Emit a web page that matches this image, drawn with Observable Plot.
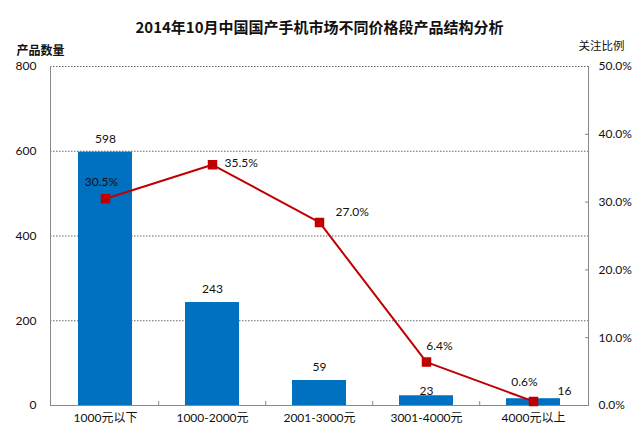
<!DOCTYPE html>
<html><head><meta charset="utf-8">
<script src="https://cdn.jsdelivr.net/npm/d3@7"></script>
<script src="https://cdn.jsdelivr.net/npm/@observablehq/plot@0.6"></script>
<style>body{margin:0;background:#fff}</style>
</head><body><div id="chart"></div>
<script>
const categories = ["1000元以下","1000-2000元","2001-3000元","3001-4000元","4000元以上"];
const counts = [598, 243, 59, 23, 16];
const shares = [30.5, 35.5, 27.0, 6.4, 0.6];
const leftTicks = [0, 200, 400, 600, 800];
const rightTicks = [0, 10, 20, 30, 40, 50];
const title = "2014年10月中国国产手机市场不同价格段产品结构分析";
const leftLabel = "产品数量";
const rightLabel = "关注比例";

const W = 640, H = 445, ML = 50, MR = 52, MT = 66, MB = 40;
const K = 800 / 50; // percent -> left scale units
const step = (W - ML - MR) / categories.length;
const px = 800 / (H - MT - MB); // data units per pixel
const data = categories.map((c, i) => ({cat: c, n: counts[i], p: shares[i]}));
const font = "Lato,'Noto Sans CJK SC',sans-serif";
const cjk = "'Noto Sans CJK SC',sans-serif";
const fmt = d => d.toFixed(1) + "%";
const lineLabel = (k, dx, dy, anchor) => Plot.text(data, {
  filter: (d, i) => i === k, x: "cat", y: d => d.p * K, text: d => fmt(d.p),
  dx, dy, textAnchor: anchor, fontSize: 12, fill: "#111"
});
const barLabel = (filter, dx, dy) => Plot.text(data, {
  filter, x: "cat", y: "n", text: d => String(d.n), dx, dy, fontSize: 12, fill: "#111"
});

const chart = Plot.plot({
  width: W, height: H,
  marginLeft: ML, marginRight: MR, marginTop: MT, marginBottom: MB,
  style: {fontFamily: font, fontSize: "12px", background: "#fff", overflow: "visible"},
  x: {domain: categories, paddingInner: 0.5, paddingOuter: 0.25, label: null},
  y: {domain: [0, 800], label: null},
  marks: [
    Plot.gridY([200, 400, 600, 800], {stroke: "#666", strokeOpacity: 1, strokeDasharray: "1.5,1.5"}),
    Plot.barY(data, {x: "cat", y: "n", fill: "#0070C0"}),
    Plot.frame({anchor: "left", stroke: "#888"}),
    Plot.frame({anchor: "right", stroke: "#888"}),
    Plot.frame({anchor: "bottom", stroke: "#888"}),
    Plot.ruleX(categories.slice(1), {x: d => d, y1: 0, y2: 4 * px, dx: -step / 2, stroke: "#888"}),
    Plot.axisY({anchor: "left", ticks: leftTicks, tickSize: 0, tickPadding: 14, fontSize: 12, fill: "#111"}),
    Plot.axisY({anchor: "right", ticks: rightTicks.map(v => v * K), tickSize: 0, tickPadding: 10,
      tickFormat: d => fmt(d / K), fontSize: 12, fill: "#111"}),
    Plot.axisY({anchor: "right", ticks: rightTicks.slice(1, 5).map(v => v * K), tickSize: 4, dx: -4, tickFormat: () => "", stroke: "#888"}),
    Plot.axisX({anchor: "bottom", tickSize: 0, tickPadding: 8, fontSize: 12, fill: "#111", fontFamily: font}),
    barLabel((d, i) => i < 3, 0, -13),
    barLabel((d, i) => i === 3, 0, -5),
    barLabel((d, i) => i === 4, 31, -8),
    Plot.line(data, {x: "cat", y: d => d.p * K, stroke: "#C00000", strokeWidth: 2}),
    Plot.dot(data, {x: "cat", y: d => d.p * K, symbol: "square", r: 4.5, fill: "#C00000", stroke: "#C00000"}),
    lineLabel(0, -4, -17, "middle"),
    lineLabel(1, 12, -2, "start"),
    lineLabel(2, 16, -10, "start"),
    lineLabel(3, 13, -16, "middle"),
    lineLabel(4, -9, -19, "middle"),
    Plot.text([title], {frameAnchor: "top", dy: -44, text: d => d, fontSize: 15, fontWeight: "bold", fontFamily: cjk, fill: "#111"}),
    Plot.text([leftLabel], {frameAnchor: "top-left", dx: -34, dy: -20, text: d => d, textAnchor: "start", fontSize: 12, fontWeight: "bold", fontFamily: cjk, fill: "#111"}),
    Plot.text([rightLabel], {frameAnchor: "top-right", dx: -10, dy: -25, text: d => d, textAnchor: "start", fontSize: 11.5, fontFamily: cjk, fill: "#111"})
  ]
});
document.getElementById("chart").appendChild(chart);
</script>
</body></html>
